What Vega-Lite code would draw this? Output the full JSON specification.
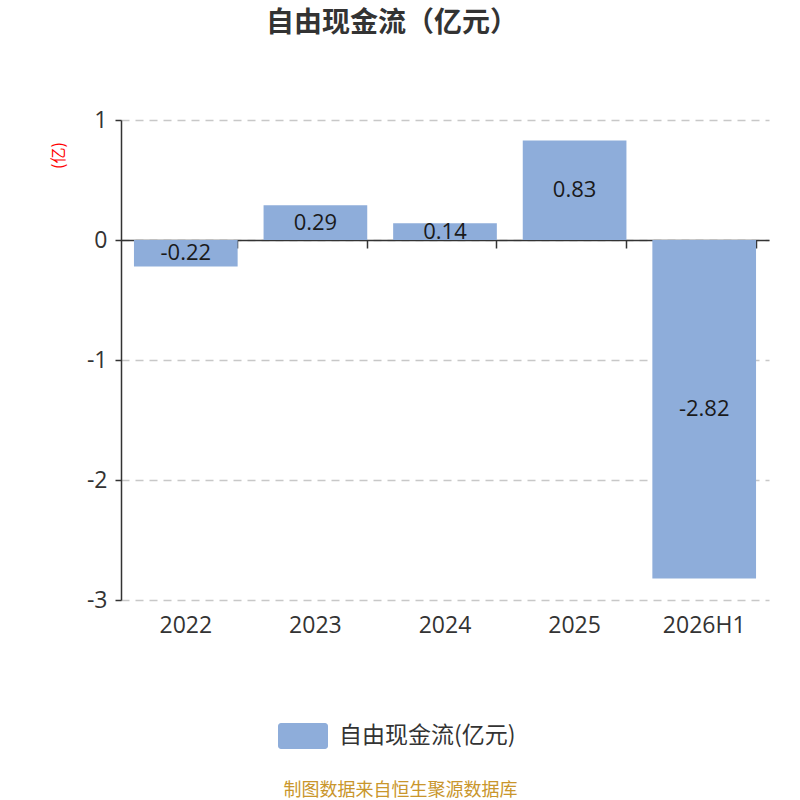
{
  "$schema": "https://vega.github.io/schema/vega-lite/v6.json",
  "width": 648,
  "height": 480,
  "autosize": "none",
  "padding": {"left": 121, "top": 120, "right": 31, "bottom": 200},
  "background": "white",
  "title": {
    "text": "自由现金流（亿元）",
    "fontSize": 28,
    "fontWeight": "bold",
    "color": "#333333",
    "font": "Noto Sans CJK SC",
    "anchor": "middle",
    "dx": -53,
    "offset": 71
  },
  "config": {
    "view": {"stroke": null},
    "font": "Open Sans"
  },
  "data": {
    "values": [
      {"period": "2022", "v": -0.22, "label": "-0.22"},
      {"period": "2023", "v": 0.29, "label": "0.29"},
      {"period": "2024", "v": 0.14, "label": "0.14"},
      {"period": "2025", "v": 0.83, "label": "0.83"},
      {"period": "2026H1", "v": -2.82, "label": "-2.82"}
    ]
  },
  "encoding": {
    "x": {
      "field": "period",
      "type": "nominal",
      "sort": null,
      "scale": {"paddingInner": 0.2, "paddingOuter": 0.1},
      "axis": {
        "orient": "bottom",
        "offset": -360,
        "title": "制图数据来自恒生聚源数据库",
        "titleFont": "Noto Sans CJK SC",
        "titleFontSize": 18,
        "titleFontWeight": "normal",
        "titleColor": "#C9962C",
        "titleX": 279,
        "titleY": 550,
        "titleBaseline": "middle",
        "titleAnchor": "middle",
        "labelAngle": 0,
        "labelFont": "Open Sans",
        "labelFontSize": 23,
        "labelColor": "#333333",
        "labelPadding": 366,
        "bandPosition": 1,
        "domainColor": "#333333",
        "domainWidth": 1.5,
        "tickColor": "#333333",
        "tickWidth": 1.5,
        "tickSize": 8,
        "grid": false
      }
    }
  },
  "layer": [
    {
      "mark": {"type": "bar"},
      "encoding": {
        "y": {
          "field": "v",
          "type": "quantitative",
          "scale": {"domain": [-3, 1], "nice": false},
          "axis": {
            "values": [1, 0, -1, -2, -3],
            "labelExpr": "'' + datum.value",
            "title": "(亿)",
            "titleFont": "Noto Sans CJK SC",
            "titleColor": "#FF0000",
            "titleFontSize": 16,
            "titleFontWeight": "normal",
            "titleX": -63,
            "titleY": 35,
            "titleAngle": -90,
            "titleBaseline": "middle",
            "titleAnchor": "middle",
            "labelFont": "Open Sans",
            "labelFontSize": 23,
            "labelColor": "#333333",
            "labelPadding": 8,
            "domainColor": "#333333",
            "domainWidth": 1.5,
            "tickColor": "#333333",
            "tickWidth": 1.5,
            "tickSize": 6,
            "grid": true,
            "gridColor": "#C8C8C8",
            "gridDash": [8, 6],
            "gridWidth": 1.3
          }
        },
        "color": {
          "datum": "自由现金流(亿元)",
          "type": "nominal",
          "scale": {"range": ["#8EADDA"]},
          "legend": {
            "title": null,
            "orient": "none",
            "legendX": 157,
            "legendY": 591,
            "symbolType": "M-0.88,-0.52H0.88A0.12,0.12 0 0 1 1,-0.4V0.4A0.12,0.12 0 0 1 0.88,0.52H-0.88A0.12,0.12 0 0 1 -1,0.4V-0.4A0.12,0.12 0 0 1 -0.88,-0.52Z",
            "symbolSize": 2500,
            "symbolStrokeWidth": 0,
            "symbolOpacity": 1,
            "labelFont": "Noto Sans CJK SC",
            "labelFontSize": 23,
            "labelBaseline": "middle",
            "labelColor": "#333333",
            "labelOffset": 11,
            "labelLimit": 400
          }
        }
      }
    },
    {
      "transform": [{"calculate": "datum.v / 2", "as": "mid"}],
      "mark": {"type": "text", "font": "Open Sans", "fontSize": 22, "color": "#1A1A1A", "baseline": "middle"},
      "encoding": {
        "y": {"field": "mid", "type": "quantitative"},
        "text": {"field": "label"}
      }
    }
  ]
}
